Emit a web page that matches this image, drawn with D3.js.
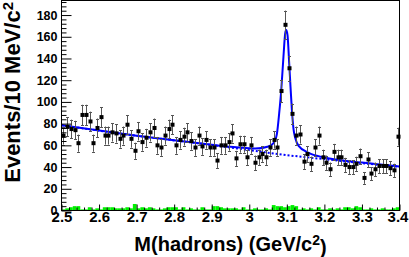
<!DOCTYPE html>
<html>
<head>
<meta charset="utf-8">
<script src="https://cdn.jsdelivr.net/npm/d3@7"></script>
<style>
body { margin: 0; background: #fff; }
svg { display: block; }
.axis text { font-family: "Liberation Sans", Arial, sans-serif; font-weight: bold; fill: #000; }
.yaxis text { font-size: 12.5px; }
.xaxis text { font-size: 15px; }
.title { font-family: "Liberation Sans", Arial, sans-serif; font-weight: bold; font-size: 20px; fill: #000; }
</style>
</head>
<body>
<div id="chart"></div>
<script>

// events per 10 MeV bin, 2.50 - 3.40 GeV
const counts = [69, 77, 75, 74, 62, 88, 88, 82, 62, 76,
                86, 69, 69, 72, 71, 66, 69, 79, 66, 55,
                73, 63, 67, 72, 76, 60, 58, 69, 75, 79,
                60, 65, 68, 72, 64, 58, 69, 59, 65, 58,
                58, 46, 60, 60, 63, 71, 48, 61, 61, 49,
                60, 44, 49, 52, 49, 58, 65, 58, 110, 171,
                131, 89, 69, 70, 45, 52, 43, 58, 69, 49,
                44, 38, 54, 49, 49, 42, 40, 40, 43, 50,
                30, 47, 34, 38, 41, 41, 41, 39, 37, 68];

// green histogram along the bottom
const sideband = [1, 2, 3, 4, 4, 1, 1, 3, 1, 2,
                  1, 3, 3, 3, 2, 2, 2, 3, 2, 6,
                  2, 3, 2, 3, 2, 1, 1, 2, 3, 3,
                  3, 1, 3, 1, 2, 1, 1, 3, 1, 1,
                  4, 4, 3, 2, 2, 2, 2, 1, 3, 1,
                  1, 2, 1, 1, 2, 1, 5, 4, 4, 3,
                  4, 5, 4, 1, 2, 1, 2, 1, 3, 1,
                  1, 2, 1, 2, 1, 3, 3, 2, 4, 3,
                  1, 1, 2, 1, 1, 2, 1, 1, 2, 3];

const massBins = counts.map((d, i) => +(2.505 + i * 0.01).toFixed(3));

// fit curve
const fitMass  = [2.5, 2.7, 2.9, 2.95, 3.0, 3.0155, 3.051, 3.0645, 3.0735, 3.0796, 3.085, 3.091,
                  3.0956, 3.0983, 3.1018, 3.1063, 3.1098, 3.1135, 3.118, 3.1223, 3.1313, 3.158, 3.2, 3.3, 3.4];
const fitTotal = [78.5, 68.9, 60.6, 58.6, 57.3, 57.0, 59.0, 62.0, 70.5, 89.4, 110.2, 141.6,
                  163.1, 166.2, 161.6, 135.5, 113.9, 92.4, 74.5, 67.0, 59.5, 53.1, 48.8, 44.2, 40.5];

// background part of the fit (dotted)
const bkgMass  = [2.5, 2.7, 2.9, 3.0, 3.1, 3.2, 3.3, 3.4];
const bkgValue = [78.5, 68.8, 60.3, 55.6, 51.0, 47.3, 43.6, 40.2];

const xTicks = [2.5, 2.6, 2.7, 2.8, 2.9, 3.0, 3.1, 3.2, 3.3, 3.4];
const xTickLabels = ['2.5', '2.6', '2.7', '2.8', '2.9', '3', '3.1', '3.2', '3.3', '3.4'];
const yTicks = [0, 20, 40, 60, 80, 100, 120, 140, 160, 180];


const W = 409, H = 257;
const frame = {left: 61.5, right: 399.5, top: 0.5, bottom: 210.5};

const svg = d3.select('#chart').append('svg')
    .attr('width', W)
    .attr('height', H);

const x = d3.scaleLinear().domain([2.5, 3.4]).range([frame.left, frame.right]);
const y = d3.scaleLinear().domain([0, 193.4]).range([frame.bottom, frame.top]);

// green histogram
svg.append('g').selectAll('rect')
    .data(sideband)
    .join('rect')
    .attr('x', (d, i) => x(massBins[i] - 0.005))
    .attr('width', (d, i) => x(massBins[i] + 0.005) - x(massBins[i] - 0.005))
    .attr('y', d => y(d))
    .attr('height', d => y(0) - y(d))
    .attr('fill', '#00f000');

// fit: background dotted, total solid
const bkgLine = d3.line()
    .x((d, i) => x(bkgMass[i]))
    .y(d => y(d))
    .curve(d3.curveMonotoneX);

svg.append('path')
    .attr('d', bkgLine(bkgValue))
    .attr('fill', 'none')
    .attr('stroke', '#0000ff')
    .attr('stroke-width', 2)
    .attr('stroke-dasharray', '2,2');

const fitLine = d3.line()
    .x((d, i) => x(fitMass[i]))
    .y(d => y(d))
    .curve(d3.curveMonotoneX);

svg.append('path')
    .attr('d', fitLine(fitTotal))
    .attr('fill', 'none')
    .attr('stroke', '#0000ff')
    .attr('stroke-width', 2);

// data points with sqrt(N) errors
const pts = svg.append('g').selectAll('g')
    .data(counts)
    .join('g')
    .attr('transform', (d, i) => 'translate(' + Math.round(x(massBins[i])) + ',0)');

pts.append('line')
    .attr('x1', 0.5).attr('x2', 0.5)
    .attr('y1', d => y(d - Math.sqrt(d)))
    .attr('y2', d => y(d + Math.sqrt(d)))
    .attr('stroke', '#555');

pts.append('line')
    .attr('x1', -1).attr('x2', 2)
    .attr('y1', d => Math.round(y(d + Math.sqrt(d))) + 0.5)
    .attr('y2', d => Math.round(y(d + Math.sqrt(d))) + 0.5)
    .attr('stroke', '#555');

pts.append('line')
    .attr('x1', -1).attr('x2', 2)
    .attr('y1', d => Math.round(y(d - Math.sqrt(d))) + 0.5)
    .attr('y2', d => Math.round(y(d - Math.sqrt(d))) + 0.5)
    .attr('stroke', '#555');

pts.append('rect')
    .attr('x', -1.5)
    .attr('y', d => y(d) - 2)
    .attr('width', 4)
    .attr('height', 4)
    .attr('fill', '#000');

// frame
svg.append('rect')
    .attr('x', frame.left).attr('y', frame.top)
    .attr('width', frame.right - frame.left)
    .attr('height', frame.bottom - frame.top)
    .attr('fill', 'none')
    .attr('stroke', '#000');

// axes, ticks pointing into the frame
const yMinor = d3.range(0, 193, 4).filter(v => v % 20 !== 0);
const xMinor = d3.range(0, 46).map(i => 2.5 + i * 0.02).filter((v, i) => i % 5 !== 0);

svg.append('g').attr('class', 'axis yaxis')
    .attr('transform', 'translate(' + frame.left + ',0)')
    .call(d3.axisLeft(y).tickValues(yTicks).tickSize(-10).tickPadding(4));
svg.append('g').attr('class', 'axis')
    .attr('transform', 'translate(' + frame.left + ',0)')
    .call(d3.axisLeft(y).tickValues(yMinor).tickSize(-5).tickFormat(''));

const xAxis = svg.append('g').attr('class', 'axis xaxis')
    .attr('transform', 'translate(0,' + frame.bottom + ')')
    .call(d3.axisBottom(x).tickValues(xTicks).tickSize(-6).tickPadding(0.5)
        .tickFormat((d, i) => xTickLabels[i]));
svg.append('g').attr('class', 'axis')
    .attr('transform', 'translate(0,' + frame.bottom + ')')
    .call(d3.axisBottom(x).tickValues(xMinor).tickSize(-3).tickFormat(''));

// last label sits a bit left so it stays inside the canvas
xAxis.selectAll('.tick text').filter((d, i) => i === xTicks.length - 1).attr('dx', -2);

svg.selectAll('.axis .domain').remove();
svg.selectAll('.axis .tick line').attr('stroke', '#000');

// titles
const xTitle = svg.append('text')
    .attr('class', 'title')
    .attr('x', (frame.left + frame.right) / 2)
    .attr('y', 251)
    .attr('text-anchor', 'middle');
xTitle.append('tspan').text('M(hadrons) (GeV/c');
xTitle.append('tspan').attr('dy', '-0.45em').attr('font-size', '14px').text('2');
xTitle.append('tspan').attr('dy', '0.45em').text(')');

const yTitle = svg.append('text')
    .attr('class', 'title')
    .style('font-size', '22px')
    .attr('transform', 'translate(20,2) rotate(-90)')
    .attr('text-anchor', 'end');
yTitle.append('tspan').text('Events/10 MeV/c');
yTitle.append('tspan').attr('dy', '-0.45em').attr('font-size', '15px').text('2');

</script>
</body>
</html>
